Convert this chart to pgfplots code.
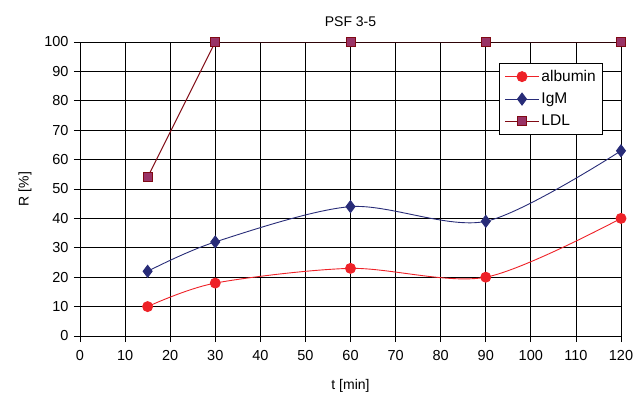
\documentclass[border=0pt]{standalone}
\usepackage{pgfplots}
\pgfplotsset{compat=1.18}
\usepackage{fontspec}
\setmainfont{Liberation Sans}
\definecolor{alb}{RGB}{238,34,40}
\definecolor{igm}{RGB}{40,44,120}
\definecolor{ldl}{RGB}{128,10,20}
\definecolor{ldlfill}{RGB}{153,51,102}
\begin{document}
\begin{tikzpicture}
\path[use as bounding box] (-80pt,-58pt) rectangle (556pt,336pt);
\begin{axis}[
  scale only axis, width=541pt, height=294pt,
  xmin=0, xmax=120, ymin=0, ymax=100,
  xtick={0,10,...,120}, ytick={0,10,...,100},
  grid=major, major grid style={black, line width=0.8pt},
  axis line style={black, line width=1pt},
  tick style={black, line width=0.8pt}, tick align=outside,
  major tick length=6pt,
  xtick pos=left, ytick pos=left,
  /pgf/number format/assume math mode=true,
  ticklabel style={font=\fontsize{14.5}{16}\selectfont},
  xticklabel style={yshift=-5pt},
  yticklabel style={xshift=-2pt},
  title={PSF 3-5}, title style={font=\fontsize{14}{16}\selectfont, yshift=6pt},
  xlabel={t [min]}, ylabel={R [\%]},
  label style={font=\fontsize{14}{16}\selectfont},
  xlabel style={yshift=-12pt},
  ylabel style={yshift=6pt},
  legend style={at={(0.967,0.929)}, anchor=north east, draw=black, line width=0.8pt,
    font=\fontsize{15.5}{17}\selectfont, row sep=6pt, inner xsep=5pt, inner ysep=5pt},
  legend cell align=left,
  legend image code/.code={\draw[mark repeat=2,mark phase=2] plot coordinates {(0pt,0pt) (17pt,0pt) (34pt,0pt)};},
]
\addplot[alb, line width=0.9pt, smooth, tension=0.5, mark=*, mark size=5pt, mark options={fill=alb, draw=alb}]
  coordinates {(15,10) (30,18) (60,23) (90,20) (120,40)};
\addlegendentry{albumin}
\addplot[igm, line width=0.9pt, smooth, tension=0.5, mark=diamond*, mark size=6pt, mark options={fill=igm, draw=igm}]
  coordinates {(15,22) (30,32) (60,44) (90,39) (120,63)};
\addlegendentry{IgM}
\addplot[ldl, line width=0.9pt, mark=square*, mark size=4.5pt, mark options={fill=ldlfill, draw=ldl, line width=0.8pt}]
  coordinates {(15,54) (30,100) (60,100) (90,100) (120,100)};
\addlegendentry{LDL}
\end{axis}
\end{tikzpicture}
\end{document}
